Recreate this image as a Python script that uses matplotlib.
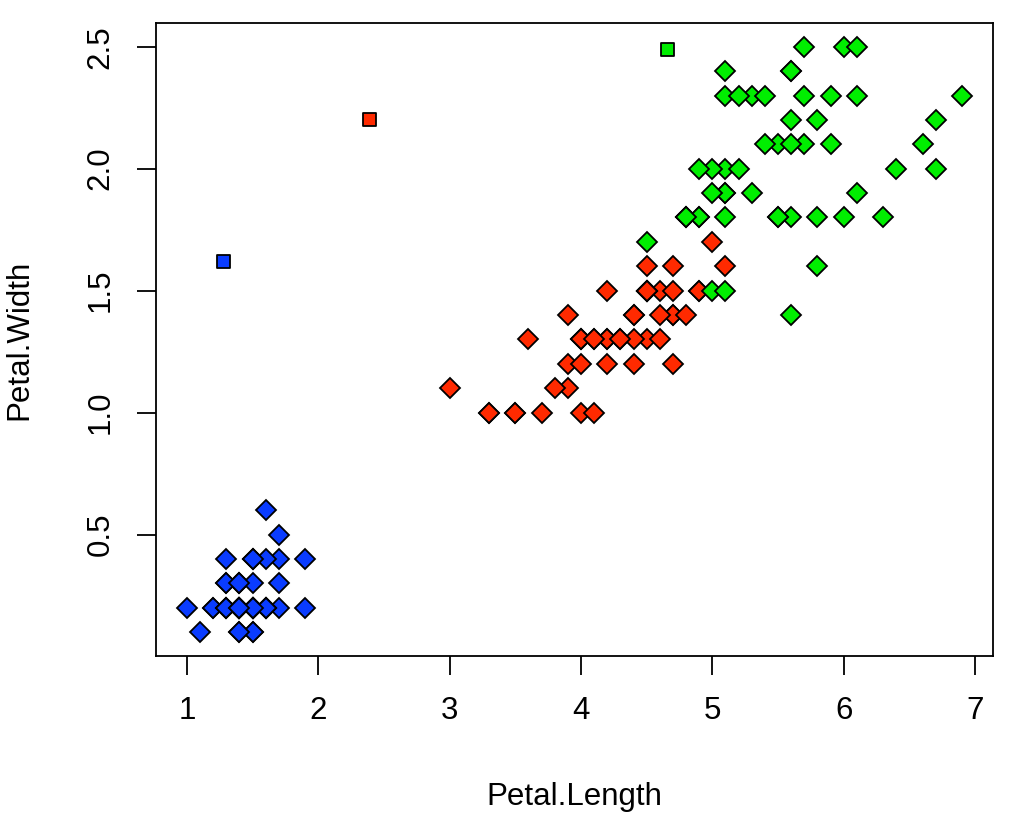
import matplotlib
matplotlib.use('Agg')
import matplotlib.pyplot as plt
import numpy as np

plt.rcParams['font.family'] = ['Liberation Sans', 'DejaVu Sans']

# iris petal measurements by species
setosa_len = [1.4,1.4,1.3,1.5,1.4,1.7,1.4,1.5,1.4,1.5,1.5,1.6,1.4,1.1,1.2,1.5,1.3,1.4,1.7,1.5,
              1.7,1.5,1.0,1.7,1.9,1.6,1.6,1.5,1.4,1.6,1.6,1.5,1.5,1.4,1.5,1.2,1.3,1.4,1.3,1.5,
              1.3,1.3,1.3,1.6,1.9,1.4,1.6,1.4,1.5,1.4]
setosa_wid = [0.2,0.2,0.2,0.2,0.2,0.4,0.3,0.2,0.2,0.1,0.2,0.2,0.1,0.1,0.2,0.4,0.4,0.3,0.3,0.3,
              0.2,0.4,0.2,0.5,0.2,0.2,0.4,0.2,0.2,0.2,0.2,0.4,0.1,0.2,0.2,0.2,0.2,0.1,0.2,0.2,
              0.3,0.3,0.2,0.6,0.4,0.3,0.2,0.2,0.2,0.2]
versi_len = [4.7,4.5,4.9,4.0,4.6,4.5,4.7,3.3,4.6,3.9,3.5,4.2,4.0,4.7,3.6,4.4,4.5,4.1,4.5,3.9,
             4.8,4.0,4.9,4.7,4.3,4.4,4.8,5.0,4.5,3.5,3.8,3.7,3.9,5.1,4.5,4.5,4.7,4.4,4.1,4.0,
             4.4,4.6,4.0,3.3,4.2,4.2,4.2,4.3,3.0,4.1]
versi_wid = [1.4,1.5,1.5,1.3,1.5,1.3,1.6,1.0,1.3,1.4,1.0,1.5,1.0,1.4,1.3,1.4,1.5,1.0,1.5,1.1,
             1.8,1.3,1.5,1.2,1.3,1.4,1.4,1.7,1.5,1.0,1.1,1.0,1.2,1.6,1.5,1.6,1.5,1.3,1.3,1.3,
             1.2,1.4,1.2,1.0,1.3,1.2,1.3,1.3,1.1,1.3]
virg_len = [6.0,5.1,5.9,5.6,5.8,6.6,4.5,6.3,5.8,6.1,5.1,5.3,5.5,5.0,5.1,5.3,5.5,6.7,6.9,5.0,
            5.7,4.9,6.7,4.9,5.7,6.0,4.8,4.9,5.6,5.8,6.1,6.4,5.6,5.1,5.6,6.1,5.6,5.5,4.8,5.4,
            5.6,5.1,5.1,5.9,5.7,5.2,5.0,5.2,5.4,5.1]
virg_wid = [2.5,1.9,2.1,1.8,2.2,2.1,1.7,1.8,1.8,2.5,2.0,1.9,2.1,2.0,2.4,2.3,1.8,2.2,2.3,1.5,
            2.3,2.0,2.0,1.8,2.1,1.8,1.8,1.8,2.1,1.6,1.9,2.0,2.2,1.5,1.4,2.3,2.4,1.8,1.8,2.1,
            2.4,2.3,1.9,2.3,2.5,2.3,1.9,2.0,2.3,1.8]

# extra square points
sq_len = [1.28, 2.39, 4.66]
sq_wid = [1.62, 2.20, 2.49]

colors = ['#0A3CFF', '#FF2A00', '#00EE00']

fig = plt.figure(figsize=(10.12, 8.18), dpi=100)
ax = fig.add_axes([0.1540, 0.198, 0.8272, 0.7738])

groups = [(setosa_len, setosa_wid), (versi_len, versi_wid), (virg_len, virg_wid)]
for (x, y), c in zip(groups, colors):
    ax.plot(x, y, 'D', ms=10, mfc=c, mec='black', mew=1.3, ls='none')
ax.scatter(sq_len, sq_wid, marker='s', s=90, c=colors, edgecolors='black', linewidths=1.3, zorder=3)

ax.set_xlim(0.764, 7.136)
ax.set_ylim(0.002, 2.597)
ax.set_xticks([1, 2, 3, 4, 5, 6, 7])
ax.set_yticks([0.5, 1.0, 1.5, 2.0, 2.5])
ax.set_yticklabels(['0.5', '1.0', '1.5', '2.0', '2.5'], rotation=90, va='center')
ax.tick_params(length=14, width=1.3, labelsize=22.5, pad=15)
for s in ax.spines.values():
    s.set_linewidth(1.3)
ax.set_xlabel('Petal.Length', fontsize=22.5, labelpad=40)
ax.set_ylabel('Petal.Width', fontsize=22.5, labelpad=37)

fig.savefig('out.png', dpi=100)
